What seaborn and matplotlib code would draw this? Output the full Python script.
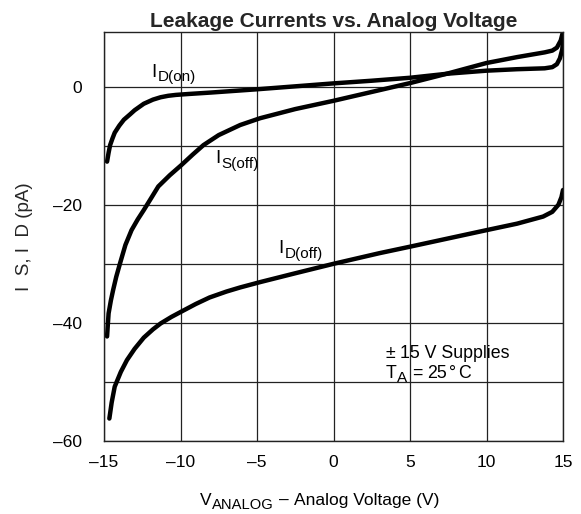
import matplotlib
matplotlib.use("Agg")
import matplotlib.pyplot as plt
from matplotlib.transforms import IdentityTransform
import seaborn as sns
import pandas as pd

# ---- data ----
id_on_x = [-14.8, -14.7, -14.6, -14.45, -14.3, -14.0, -13.7, -13.3, -13.0, -12.4, -11.8,
           -11.3, -10.8, -10.3, -9.5, -8.0, -5.0, -2.0, 0.0, 2.5, 5.0, 7.5, 10.0, 12.0,
           13.8, 14.3, 14.6, 14.8, 14.95, 15.0]
id_on_y = [-12.7, -11.2, -9.9, -8.8, -7.8, -6.6, -5.6, -4.7, -4.0, -2.9, -2.2,
           -1.8, -1.55, -1.4, -1.25, -1.0, -0.45, 0.15, 0.55, 1.0, 1.5, 2.2, 2.7, 2.95,
           3.1, 3.3, 3.8, 4.8, 6.3, 7.6]

is_off_x = [-14.8, -14.75, -14.7, -14.55, -14.4, -14.2, -13.95, -13.6, -13.2, -12.8,
            -12.4, -11.9, -11.45, -10.7, -9.95, -9.2, -8.5, -7.5, -6.1, -4.8, -2.5,
            0.0, 2.5, 5.0, 7.5, 10.0, 12.0, 13.8, 14.3, 14.6, 14.85, 15.0]
is_off_y = [-42.3, -40.3, -38.4, -36.2, -34.4, -32.2, -29.9, -26.8, -24.3, -22.5,
            -20.9, -18.8, -16.9, -15.0, -13.3, -11.5, -9.9, -8.2, -6.5, -5.35, -3.8,
            -2.4, -0.9, 0.6, 2.25, 4.0, 5.0, 5.8, 6.1, 6.6, 7.8, 9.3]

id_off_x = [-14.65, -14.5, -14.3, -13.9, -13.5, -13.0, -12.4, -11.8, -11.3, -10.6,
            -9.95, -9.0, -8.1, -7.0, -6.1, -4.8, -2.5, 0.0, 3.0, 5.0, 7.5, 10.0, 12.0,
            13.7, 14.3, 14.7, 14.9, 15.0]
id_off_y = [-56.2, -53.5, -50.8, -48.3, -46.3, -44.4, -42.5, -41.1, -40.1, -39.0,
            -38.1, -36.8, -35.7, -34.7, -34.0, -33.1, -31.6, -30.0, -28.2, -27.1,
            -25.7, -24.3, -23.2, -22.0, -21.2, -20.0, -18.7, -17.5]

x_ticks = [-15, -10, -5, 0, 5, 10, 15]
x_tick_labels = ["–15", "–10", "–5", "0", "5", "10", "15"]
y_ticks = [-60, -50, -40, -30, -20, -10, 0]
y_tick_labels = ["–60", "", "–40", "", "–20", "", "0"]

sns.set_theme(style="white")
plt.rcParams["font.family"] = ["Liberation Sans", "DejaVu Sans"]

W, H = 581, 514
fig = plt.figure(figsize=(W / 100, H / 100), dpi=100)
ax = fig.add_axes([104 / W, 1 - 441 / H, (563 - 104) / W, (441 - 31.7) / H])

for xs, ys in [(id_on_x, id_on_y), (is_off_x, is_off_y), (id_off_x, id_off_y)]:
    df = pd.DataFrame({"x": xs, "y": ys})
    sns.lineplot(data=df, x="x", y="y", ax=ax, color="black", linewidth=3.2,
                 sort=False, estimator=None, solid_capstyle="round",
                 solid_joinstyle="round")

ax.set_xlim(-15, 15)
ax.set_ylim(-60, 9.3)
ax.set_xticks(x_ticks)
ax.set_xticklabels(x_tick_labels)
ax.set_yticks(y_ticks)
ax.set_yticklabels(y_tick_labels)
ax.tick_params(axis="both", length=0, labelsize=12.5, colors="black")
ax.tick_params(axis="y", pad=16)
ax.tick_params(axis="x", pad=10)
ax.grid(True, color="#222222", linewidth=0.9)
for s in ax.spines.values():
    s.set_color("#222222")
    s.set_linewidth(1.0)
    s.set_visible(True)

ax.set_title("Leakage Currents vs. Analog Voltage", fontsize=15,
             fontweight="bold", pad=3.5)
ax.set_xlabel("")
ax.set_ylabel("I  S, I  D (pA)", fontsize=13.5)
ax.yaxis.set_label_coords(-0.155, 0.5)

renderer = fig.canvas.get_renderer()


def rich_text(parts, x, y, center=False):
    """parts: list of (text, fontsize, drop_px, gap_before_px); x,y display px of baseline."""
    arts = []
    total = 0.0
    for s, fs, drop, gap in parts:
        t = fig.text(0, 0, s, fontsize=fs, transform=IdentityTransform(),
                     ha="left", va="baseline", color="black")
        w = t.get_window_extent(renderer=renderer).width
        arts.append((t, w, drop, gap))
        total += gap + w
    cx = x - total / 2 if center else x
    for t, w, drop, gap in arts:
        cx += gap
        t.set_position((cx, y - drop))
        cx += w


def data_px(xd, yd):
    return ax.transData.transform((xd, yd))


# curve labels (baseline positions in data coordinates)
for main, sub, xd, yd in [("I", "D(on)", -11.88, 1.69),
                          ("I", "S(off)", -7.75, -12.97),
                          ("I", "D(off)", -3.61, -28.21)]:
    px, py = data_px(xd, yd)
    rich_text([(main, 13.5, 0, 0), (sub, 11, 4.5, 1)], px, py)

px, py = data_px(3.43, -46.0)
rich_text([("±", 12.8, 0, 0), ("15 V Supplies", 12.8, 0, 4)], px, py)
px, py = data_px(3.43, -49.38)
rich_text([("T", 12.8, 0, 0), ("A", 11, 4, 0), ("=", 12.8, 0, 5),
           ("25", 12.8, 0, 5), ("°", 12.8, 0, 2), ("C", 12.8, 0, 2)], px, py)

# x-axis title with subscript
px, py = ax.transAxes.transform((0.47, -0.156))
rich_text([("V", 12.5, 0, 0), ("ANALOG", 10.6, 4, 0),
           ("–", 12.5, 0, 6), ("Analog Voltage (V)", 12.5, 0, 5)], px, py, center=True)

fig.savefig("out.png", dpi=100)
